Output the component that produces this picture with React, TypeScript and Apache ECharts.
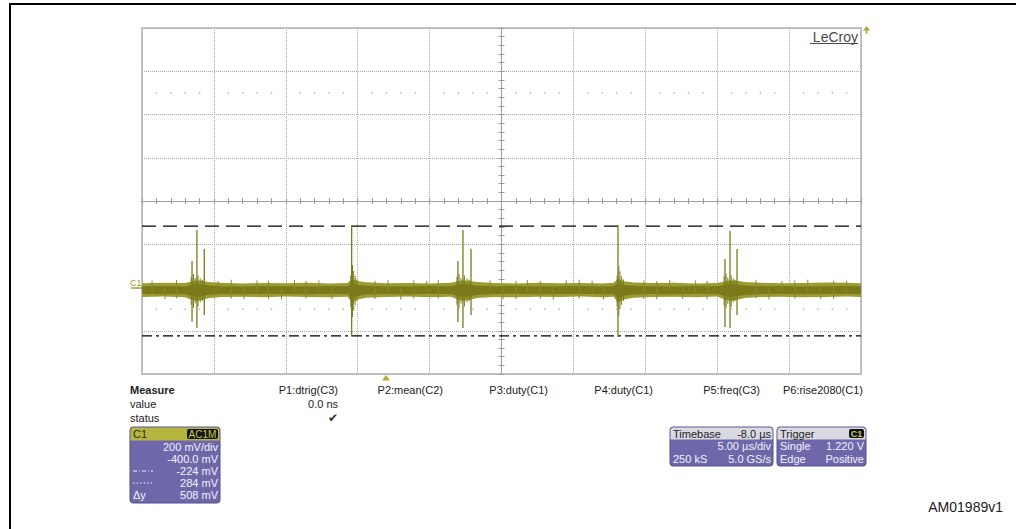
import React, { useEffect, useRef } from "react";
import * as echarts from "echarts";

// ---- axis scales (5 µs/div, 200 mV/div, offset -400 mV) ----
const timeRange = [0, 50]; // µs
const voltRange = [-400, 1200]; // mV
const cursorLevels = [284, -224]; // mV (dashed, dash-dot)

// ---- noise band envelope (mV) ----
const bandTime = [0, 1.5, 3.0, 3.4, 3.8, 4.2, 4.6, 5.5, 7, 8.5, 10, 11.5, 13, 14.3, 14.6, 15.0, 15.6, 17, 18.5, 20, 21.5, 21.9, 22.3, 22.8, 23.3, 24.5, 26, 27.5, 29, 30.5, 32, 32.8, 33.1, 33.5, 34.2, 35.5, 37, 38.5, 40, 40.5, 40.9, 41.4, 41.9, 43, 44.5, 46, 47.5, 49, 50];
const outerHigh = [20, 22, 21, 28, 34, 31, 26, 22, 19, 21, 20, 22, 18, 21, 40, 30, 24, 20, 21, 18, 22, 28, 34, 30, 25, 21, 19, 22, 20, 21, 19, 22, 40, 29, 23, 21, 22, 19, 21, 28, 34, 31, 25, 22, 20, 21, 23, 22, 20];
const outerLow = [-44, -42, -45, -55, -62, -58, -50, -44, -43, -45, -42, -44, -45, -43, -70, -56, -47, -44, -42, -45, -43, -54, -62, -57, -49, -44, -45, -43, -44, -42, -45, -43, -70, -56, -47, -44, -43, -45, -42, -54, -62, -57, -49, -44, -43, -45, -44, -42, -44];
const innerHigh = [6, 7, 5, 12, 16, 14, 10, 6, 5, 7, 6, 5, 7, 6, 20, 12, 8, 6, 5, 7, 6, 12, 16, 13, 9, 6, 7, 5, 6, 7, 5, 6, 20, 12, 8, 6, 5, 7, 6, 12, 16, 13, 9, 6, 7, 5, 6, 7, 6];
const innerLow = [-29, -31, -30, -38, -44, -40, -35, -30, -31, -29, -30, -31, -29, -30, -50, -38, -32, -30, -31, -29, -30, -38, -44, -40, -35, -30, -29, -31, -30, -29, -31, -30, -50, -38, -32, -30, -31, -29, -30, -38, -44, -40, -35, -30, -29, -31, -30, -29, -30];

// ---- main spikes (µs, mV) ----
const spikeTime = [3.48, 3.82, 4.33, 14.58, 21.97, 22.32, 22.88, 33.1, 40.54, 40.89, 41.38];
const spikeHigh = [122, 266, 179, 289, 122, 266, 179, 289, 132, 261, 178];
const spikeLow = [-158, -187, -127, -227, -160, -187, -127, -229, -183, -187, -127];

// ---- ringing around spikes ----
const ringTime = [3.42, 3.58, 3.7, 3.9, 4.05, 4.2, 14.52, 14.64, 14.72, 14.82, 14.95, 21.9, 22.05, 22.18, 22.42, 22.6, 22.75, 33.04, 33.16, 33.24, 33.34, 33.48, 40.48, 40.62, 40.74, 40.98, 41.12, 41.25];
const ringHigh = [50, 62, 44, 56, 42, 36, 56, 104, 76, 54, 38, 50, 62, 44, 56, 42, 36, 56, 100, 74, 52, 38, 52, 64, 46, 56, 42, 36];
const ringLow = [-80, -94, -74, -88, -68, -62, -90, -136, -106, -80, -62, -80, -94, -74, -88, -68, -62, -90, -130, -100, -80, -62, -82, -96, -76, -88, -68, -62];

// ---- small noise hairs on the band edges ----
const hairTime = [0.7, 1.6, 2.4, 5.3, 6.2, 7.1, 8.0, 8.8, 9.7, 10.6, 11.4, 12.3, 13.2, 16.2, 17.1, 18.0, 18.9, 19.8, 20.6, 24.2, 25.1, 26.0, 26.8, 27.7, 28.6, 29.5, 30.4, 31.3, 32.1, 34.9, 35.8, 36.7, 37.6, 38.5, 39.3, 42.7, 43.6, 44.5, 45.4, 46.3, 47.2, 48.1, 49.0];
const hairHigh = [32, 5, 34, 30, 36, 0, 33, 31, 2, 35, 30, 33, 0, 31, 34, 0, 32, 30, 35, 33, 0, 31, 34, 30, 2, 33, 36, 31, 0, 32, 30, 35, 0, 33, 31, 34, 0, 30, 33, 36, 0, 32, 31];
const hairLow = [-20, -54, -50, -20, -52, -55, -15, -53, -56, -20, -51, -15, -54, -53, -20, -56, -52, -18, -50, -15, -55, -53, -20, -52, -55, -15, -51, -20, -56, -52, -54, -18, -53, -20, -55, -50, -56, -19, -52, -15, -54, -53, -20];

// ---- texts ----
const measureHeaders = ["P1:dtrig(C3)", "P2:mean(C2)", "P3:duty(C1)", "P4:duty(C1)", "P5:freq(C3)", "P6:rise2080(C1)"];
const measureLabels = ["Measure", "value", "status"];
const channelLines = ["200 mV/div", "-400.0 mV", "-224 mV", "284 mV", "508 mV"];

const FONT = '"Liberation Sans", Arial, Helvetica, sans-serif';
const fnt = (size: number, weight = "normal") => `${weight} ${size}px ${FONT}`;

const PURPLE = "#6e68aa";
const BOXTXT = "#f2f2ff";

function txt(x: number, y: number, t: string, opt: any = {}) {
  return {
    type: "text",
    x,
    y,
    silent: true,
    z: 10,
    style: {
      text: t,
      fill: opt.fill ?? "#222",
      font: opt.font ?? fnt(11),
      textAlign: opt.align ?? "left",
      textVerticalAlign: "middle",
    },
  };
}

function strokeSeries(times: number[], lows: number[], highs: number[], color: string, width: number, z: number) {
  return {
    type: "custom",
    xAxisIndex: 0,
    yAxisIndex: 0,
    z,
    silent: true,
    clip: true,
    data: times.map((t, i) => [t, lows[i], highs[i]]),
    renderItem: (_p: any, api: any) => {
      const t = api.value(0);
      const a = api.coord([t, api.value(2)]);
      const b = api.coord([t, api.value(1)]);
      return {
        type: "line",
        shape: { x1: a[0], y1: a[1], x2: b[0], y2: b[1] },
        style: { stroke: color, lineWidth: width },
      };
    },
  };
}

function bandSeries(high: number[], low: number[], color: string, z: number) {
  return {
    type: "custom",
    xAxisIndex: 0,
    yAxisIndex: 0,
    z,
    silent: true,
    clip: true,
    data: [[bandTime[0], low[0]]],
    renderItem: (_p: any, api: any) => {
      const pts: number[][] = [];
      bandTime.forEach((t, i) => pts.push(api.coord([t, high[i]])));
      for (let i = bandTime.length - 1; i >= 0; i--) pts.push(api.coord([bandTime[i], low[i]]));
      return { type: "polygon", shape: { points: pts }, style: { fill: color } };
    },
  };
}

export default function App() {
  const ref = useRef<HTMLDivElement>(null);

  useEffect(() => {
    if (!ref.current) return;
    const chart = echarts.init(ref.current, undefined, { renderer: "svg" });

    // graticule dot rows (1.5 and 6.5 divisions from top)
    const dotRows = [voltRange[1] - 1.5 * 200, voltRange[1] - 6.5 * 200];
    const dotData: number[][] = [];
    dotRows.forEach((v) => {
      for (let k = timeRange[0] + 1; k < timeRange[1]; k++) if (k % 5 !== 0) dotData.push([k, v]);
    });

    const graphic: any[] = [];
    // figure frame
    graphic.push({ type: "line", silent: true, shape: { x1: 9, y1: 4, x2: 1016, y2: 4 }, style: { stroke: "#000", lineWidth: 2 } });
    graphic.push({ type: "line", silent: true, shape: { x1: 10, y1: 3, x2: 10, y2: 529 }, style: { stroke: "#000", lineWidth: 2 } });

    // LeCroy logo
    graphic.push(txt(858, 37, "LeCroy", { align: "right", fill: "#4a4a4a", font: fnt(14) }));
    graphic.push({ type: "line", silent: true, shape: { x1: 810, y1: 43.5, x2: 858, y2: 43.5 }, style: { stroke: "#4a4a4a", lineWidth: 1.2 } });
    // trigger level arrow (off screen above)
    graphic.push({ type: "polygon", silent: true, shape: { points: [[866.5, 26], [863, 30.5], [870, 30.5]] }, style: { fill: "#a8a834" } });
    graphic.push({ type: "line", silent: true, shape: { x1: 866.5, y1: 30, x2: 866.5, y2: 34 }, style: { stroke: "#a8a834", lineWidth: 1.5 } });

    // C1 ground marker
    graphic.push(txt(130, 282.5, "C1", { fill: "#a0a030", font: fnt(9) }));
    graphic.push({ type: "line", silent: true, shape: { x1: 131, y1: 288, x2: 142, y2: 288 }, style: { stroke: "#a0a030", lineWidth: 1.5 } });
    // trigger position marker
    graphic.push({ type: "polygon", silent: true, shape: { points: [[386, 375], [382, 380.5], [390, 380.5]] }, style: { fill: "#b0b034" } });

    // Measure table
    graphic.push(txt(130, 390, measureLabels[0], { font: fnt(11, "bold") }));
    graphic.push(txt(130, 404, measureLabels[1]));
    graphic.push(txt(130, 418, measureLabels[2]));
    const headerRight = [338, 443, 548, 653, 760, 863];
    measureHeaders.forEach((h, i) => graphic.push(txt(headerRight[i], 390, h, { align: "right" })));
    graphic.push(txt(338, 404, "0.0 ns", { align: "right" }));
    graphic.push(txt(333, 418, "✔", { align: "center", fill: "#333", font: `12px "DejaVu Sans", sans-serif` }));

    // C1 channel box
    graphic.push({ type: "rect", silent: true, shape: { x: 130, y: 427, width: 90, height: 76, r: 3 }, style: { fill: PURPLE, stroke: "#55508a", lineWidth: 1 } });
    graphic.push({ type: "rect", silent: true, shape: { x: 130.5, y: 427.5, width: 89, height: 13, r: [3, 3, 0, 0] }, style: { fill: "#b6b63e" } });
    graphic.push(txt(133, 434, "C1", { fill: "#2a2a10" }));
    graphic.push({ type: "rect", silent: true, shape: { x: 187, y: 429, width: 31, height: 10, r: 2 }, style: { fill: "#151515" } });
    graphic.push(txt(202.5, 434, "AC1M", { align: "center", fill: "#c9c95a", font: fnt(10) }));
    const rowY = [447, 459, 471, 483, 495];
    channelLines.forEach((s, i) => graphic.push(txt(218, rowY[i], s, { align: "right", fill: BOXTXT })));
    graphic.push({ type: "line", silent: true, shape: { x1: 133, y1: 471, x2: 153, y2: 471 }, style: { stroke: BOXTXT, lineWidth: 1, lineDash: [4, 2, 1, 2] } });
    graphic.push({ type: "line", silent: true, shape: { x1: 133, y1: 483, x2: 153, y2: 483 }, style: { stroke: BOXTXT, lineWidth: 1, lineDash: [1.5, 2] } });
    graphic.push(txt(133, 495, "Δy", { fill: BOXTXT }));

    // Timebase box
    graphic.push({ type: "rect", silent: true, shape: { x: 670, y: 427, width: 103, height: 39, r: 3 }, style: { fill: PURPLE, stroke: "#55508a", lineWidth: 1 } });
    graphic.push({ type: "rect", silent: true, shape: { x: 670.5, y: 427.5, width: 102, height: 12, r: [3, 3, 0, 0] }, style: { fill: "#d9d9e2" } });
    graphic.push(txt(673, 433.5, "Timebase"));
    graphic.push(txt(771, 433.5, "-8.0 µs", { align: "right" }));
    graphic.push(txt(771, 446, "5.00 µs/div", { align: "right", fill: BOXTXT }));
    graphic.push(txt(673, 459, "250 kS", { fill: BOXTXT }));
    graphic.push(txt(771, 459, "5.0 GS/s", { align: "right", fill: BOXTXT }));

    // Trigger box
    graphic.push({ type: "rect", silent: true, shape: { x: 777, y: 427, width: 89, height: 39, r: 3 }, style: { fill: PURPLE, stroke: "#55508a", lineWidth: 1 } });
    graphic.push({ type: "rect", silent: true, shape: { x: 777.5, y: 427.5, width: 88, height: 12, r: [3, 3, 0, 0] }, style: { fill: "#d9d9e2" } });
    graphic.push(txt(780, 433.5, "Trigger"));
    graphic.push({ type: "rect", silent: true, shape: { x: 849, y: 429, width: 15, height: 9, r: 2 }, style: { fill: "#111" } });
    graphic.push(txt(856.5, 433.5, "C1", { align: "center", fill: "#c9c95a", font: fnt(9, "bold") }));
    graphic.push(txt(780, 446, "Single", { fill: BOXTXT }));
    graphic.push(txt(864, 446, "1.220 V", { align: "right", fill: BOXTXT }));
    graphic.push(txt(780, 459, "Edge", { fill: BOXTXT }));
    graphic.push(txt(864, 459, "Positive", { align: "right", fill: BOXTXT }));

    // figure id
    graphic.push(txt(1003, 507, "AM01989v1", { align: "right", font: fnt(14), fill: "#222" }));

    const hidden = { axisLabel: { show: false }, axisTick: { show: false }, axisLine: { show: false } };
    const gridLine = { show: true, lineStyle: { type: "dotted", color: "#a9a9a9", width: 1 } };
    const centerLine = { lineStyle: { color: "#9c9c9c", width: 1 } };

    const option: any = {
      animation: false,
      backgroundColor: "#ffffff",
      grid: { left: 142, top: 28, width: 719, height: 346, show: true, borderColor: "#c6c6c6", borderWidth: 2, backgroundColor: "#fff" },
      xAxis: [
        { type: "value", min: timeRange[0], max: timeRange[1], interval: 5, ...hidden, splitLine: gridLine },
        { type: "value", min: -25, max: 25, interval: 1, position: "bottom", axisLabel: { show: false }, splitLine: { show: false },
          axisLine: { show: true, onZero: true, onZeroAxisIndex: 1, ...centerLine }, axisTick: { show: true, inside: true, length: 3, ...centerLine } },
        { type: "value", min: -25, max: 25, interval: 1, position: "bottom", axisLabel: { show: false }, splitLine: { show: false },
          axisLine: { show: true, onZero: true, onZeroAxisIndex: 1, ...centerLine }, axisTick: { show: true, inside: false, length: 3, ...centerLine } },
      ],
      yAxis: [
        { type: "value", min: voltRange[0], max: voltRange[1], interval: 200, ...hidden, splitLine: gridLine },
        { type: "value", min: -800, max: 800, interval: 40, position: "left", axisLabel: { show: false }, splitLine: { show: false },
          axisLine: { show: true, onZero: true, onZeroAxisIndex: 1, ...centerLine }, axisTick: { show: true, inside: true, length: 3, ...centerLine } },
        { type: "value", min: -800, max: 800, interval: 40, position: "left", axisLabel: { show: false }, splitLine: { show: false },
          axisLine: { show: true, onZero: true, onZeroAxisIndex: 1, ...centerLine }, axisTick: { show: true, inside: false, length: 3, ...centerLine } },
      ],
      graphic,
      series: [
        {
          type: "custom", xAxisIndex: 0, yAxisIndex: 0, z: 1, silent: true, data: dotData,
          renderItem: (_p: any, api: any) => {
            const c = api.coord([api.value(0), api.value(1)]);
            return { type: "circle", shape: { cx: c[0], cy: c[1], r: 0.8 }, style: { fill: "#b4b4b4" } };
          },
        },
        {
          type: "custom", xAxisIndex: 0, yAxisIndex: 0, z: 2, silent: true,
          data: cursorLevels.map((v, i) => [i, v]),
          renderItem: (p: any, api: any) => {
            const v = api.value(1);
            const a = api.coord([timeRange[0], v]);
            const b = api.coord([timeRange[1], v]);
            return {
              type: "line",
              shape: { x1: a[0], y1: a[1], x2: b[0], y2: b[1] },
              style: { stroke: "#000", lineWidth: 1.3, lineDash: p.dataIndex === 0 ? [14, 7] : [10, 4, 3, 4] },
            };
          },
        },
        bandSeries(outerHigh, outerLow, "#9c9c32", 3),
        bandSeries(innerHigh, innerLow, "#7a7a1a", 4),
        strokeSeries(hairTime, hairLow, hairHigh, "#8a8a26", 1, 5),
        strokeSeries(ringTime, ringLow, ringHigh, "#7c7c1e", 1, 6),
        strokeSeries(spikeTime, spikeLow, spikeHigh, "#7a7a1c", 1.3, 7),
      ],
    };

    chart.setOption(option);
    return () => chart.dispose();
  }, []);

  return (
    <div
      ref={ref}
      style={{ position: "absolute", left: 0, top: 0, width: 1016, height: 529, background: "#fff" }}
    />
  );
}
